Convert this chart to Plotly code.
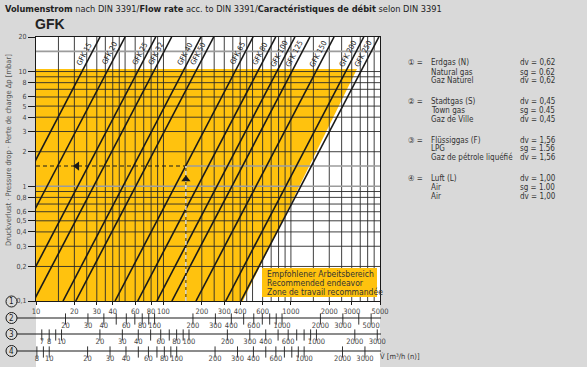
import numpy as np
import plotly.graph_objects as go

# ---------------- data ----------------
SIZES = ["GFK 15", "GFK 20", "GFK 25", "GFK 32", "GFK 40", "GFK 50", "GFK 65",
         "GFK 80", "GFK 100", "GFK 125", "GFK 150", "GFK 200", "GFK 250"]
# natural-gas flow (m3/h) where each line meets 20 mbar and 0.1 mbar
Q_AT_TOP = [31.8, 50, 87, 116, 197, 248, 505, 760, 1075, 1410, 2180, 3730, 4900]
Q_AT_BOT = [2.63, 4.13, 7.19, 9.59, 16.3, 20.5, 41.7, 62.8, 88.8, 116.5, 180, 308, 405]
DP_TOP, DP_BOT = 20, 0.1
Q_MIN, Q_MAX = 10, 5000

X_TICKS = [10, 20, 30, 40, 60, 80, 100, 200, 300, 400, 600, 1000, 2000, 3000, 5000]
Y_TICKS = [20, 10, 8, 6, 5, 4, 3, 2, 1, 0.8, 0.6, 0.5, 0.4, 0.3, 0.2, 0.1]
Y_TICKTEXT = ["20", "10", "8", "6", "5", "4", "3", "2", "1", "0,8", "0,6", "0,5",
              "0,4", "0,3", "0,2", "0,1"]

X_GRID = [15, 20, 25, 30, 35, 40, 45, 50, 60, 70, 80, 90, 100, 150, 200, 250, 300, 350,
          400, 450, 500, 600, 700, 800, 900, 1000, 1500, 2000, 2500, 3000, 3500, 4000, 4500]
Y_GRID = [10, 9, 8, 7, 6, 5, 4, 3, 2, 0.9, 0.8, 0.7, 0.6, 0.5, 0.4, 0.3, 0.2]
Y_GRID_GREY = [15, 1]

REC_TOP_DP = 10.5
REC_EDGE_Q_BOT = 420
REC_EDGE_Q_TOP = 3300

EX_Q, EX_DP = 150, 1.5
EX_ARROW_LEFT_Q = 21
EX_ARROW_UP_DP = 1.15

GAS_NO = ["①", "②", "③", "④"]
GAS_DE = ["Erdgas (N)", "Stadtgas (S)", "Flüssiggas (F)", "Luft (L)"]
GAS_EN = ["Natural gas", "Town gas", "LPG", "Air"]
GAS_FR = ["Gaz Naturel", "Gaz de Ville", "Gaz de pétrole liquéfié", "Air"]
GAS_D = [0.62, 0.45, 1.56, 1.00]
GAS_DV_TXT = ["0,62", "0,45", "1,56", "1,00"]
GAS_SG_TXT = ["0.62", "0.45", "1.56", "1.00"]

S2_TICKS = [20, 30, 40, 50, 60, 70, 80, 90, 100, 200, 300, 400, 500, 600, 700, 800, 900,
            1000, 2000, 3000, 4000, 5000]
S2_LABELS = [20, 30, 40, 60, 80, 100, 200, 300, 400, 600, 1000, 2000, 3000, 5000]
S3_TICKS = [7, 8, 9, 10, 20, 30, 40, 50, 60, 70, 80, 90, 100, 200, 300, 400, 500, 600, 700,
            800, 900, 1000, 2000, 3000]
S3_LABELS = [7, 8, 10, 20, 30, 40, 60, 80, 100, 200, 300, 400, 600, 1000, 2000, 3000]
S4_TICKS = [8, 9, 10, 20, 30, 40, 50, 60, 70, 80, 90, 100, 200, 300, 400, 500, 600, 700,
            800, 900, 1000, 2000, 3000, 4000]
S4_LABELS = [8, 10, 20, 30, 40, 60, 80, 100, 200, 300, 400, 600, 1000, 2000, 3000]

# ---------------- geometry / style ----------------
W, H = 587, 367
ML, MR, MT, MB = 36, 207, 37, 0
PW, PH = W - ML - MR, H - MT - MB
PLOT_BOTTOM = 301
YDOM0 = (H - MB - PLOT_BOTTOM) / PH

def pxx(px):
    return (px - ML) / PW

def pxy(py):
    return (H - MB - py) / PH

FONT = "DejaVu Sans Condensed, Liberation Sans Narrow, Arial Narrow, sans-serif"
TFONT = "Liberation Sans, Arial, sans-serif"
BG = "#D9D9D9"
YEL = "#FFC20E"
INK = "#1a1a1a"
GRID = "#2a2a2a"
GREY = "#9c9c9c"

fig = go.Figure()

# recommended zone (yellow)
fig.add_trace(go.Scatter(
    x=[Q_MIN, Q_MIN, REC_EDGE_Q_TOP, REC_EDGE_Q_BOT, Q_MIN],
    y=[DP_BOT, REC_TOP_DP, REC_TOP_DP, DP_BOT, DP_BOT],
    mode="lines", fill="toself", fillcolor=YEL, line=dict(width=0), hoverinfo="skip"))

# grid
gx, gy = [], []
for v in X_GRID:
    gx += [v, v, None]
    gy += [DP_BOT, DP_TOP, None]
for v in Y_GRID:
    gx += [Q_MIN, Q_MAX, None]
    gy += [v, v, None]
fig.add_trace(go.Scatter(x=gx, y=gy, mode="lines", line=dict(color=GRID, width=0.9),
                         hoverinfo="skip"))
hx, hy = [], []
for v in Y_GRID_GREY:
    hx += [Q_MIN, Q_MAX, None]
    hy += [v, v, None]
hx += [EX_Q, Q_MAX, None]
hy += [EX_DP, EX_DP, None]
fig.add_trace(go.Scatter(x=hx, y=hy, mode="lines", line=dict(color=GREY, width=1.6),
                         hoverinfo="skip"))

# GFK lines
for name, qt, qb in zip(SIZES, Q_AT_TOP, Q_AT_BOT):
    fig.add_trace(go.Scatter(x=[qb, qt], y=[DP_BOT, DP_TOP], mode="lines",
                             line=dict(color=INK, width=1.6), hoverinfo="skip"))

# example
fig.add_trace(go.Scatter(x=[Q_MIN, EX_Q], y=[EX_DP, EX_DP], mode="lines",
                         line=dict(color=INK, width=1.1, dash="4px,3px"), hoverinfo="skip"))
fig.add_trace(go.Scatter(x=[EX_Q, EX_Q], y=[DP_BOT, EX_DP], mode="lines",
                         line=dict(color="white", width=1.2, dash="4px,3px"), hoverinfo="skip"))
fig.add_trace(go.Scatter(x=[EX_ARROW_LEFT_Q], y=[EX_DP], mode="markers",
                         marker=dict(symbol="triangle-left", size=8, color=INK), hoverinfo="skip"))
fig.add_trace(go.Scatter(x=[EX_Q], y=[EX_ARROW_UP_DP], mode="markers",
                         marker=dict(symbol="triangle-up", size=8, color=INK), hoverinfo="skip"))

# line labels
PX_PER_DEC_X = PW / (np.log10(Q_MAX) - np.log10(Q_MIN))
PX_PER_DEC_Y = (PLOT_BOTTOM - MT) / (np.log10(DP_TOP) - np.log10(DP_BOT))
LABEL_DP = 13.5
annotations = []
for name, qt, qb in zip(SIZES, Q_AT_TOP, Q_AT_BOT):
    lt, lb = np.log10(qt), np.log10(qb)
    t = (np.log10(LABEL_DP) - np.log10(DP_BOT)) / (np.log10(DP_TOP) - np.log10(DP_BOT))
    lq = lb + t * (lt - lb)
    ang = np.degrees(np.arctan2((np.log10(DP_TOP) - np.log10(DP_BOT)) * PX_PER_DEC_Y,
                                (lt - lb) * PX_PER_DEC_X))
    off = 6.0
    annotations.append(dict(
        x=lq, y=np.log10(LABEL_DP), xref="x", yref="y", text=name, showarrow=False,
        xanchor="center", yanchor="middle",
        textangle=-ang, xshift=-off * np.sin(np.radians(ang)), yshift=off * np.cos(np.radians(ang)),
        font=dict(family=FONT, size=7.5, color="#222")))

def ann(px, py, text, size, color="#333", family=FONT, xanchor="left", **kw):
    annotations.append(dict(x=pxx(px), y=pxy(py), xref="paper", yref="paper", text=text,
                            showarrow=False, xanchor=xanchor, yanchor="middle",
                            font=dict(family=family, size=size, color=color), **kw))

# gas scales below the chart
SCALE_Y = {2: 318, 3: 334, 4: 351}
scales = [(2, "x2", S2_TICKS, S2_LABELS), (3, "x3", S3_TICKS, S3_LABELS), (4, "x4", S4_TICKS, S4_LABELS)]
shapes = []
for k, ax, ticks, labels in scales:
    yl = SCALE_Y[k]
    shapes.append(dict(type="line", xref="paper", yref="y2", x0=pxx(17), x1=pxx(381),
                       y0=yl, y1=yl, line=dict(color=INK, width=1.2)))
    fig.add_trace(go.Scatter(x=ticks, y=[yl + 1] * len(ticks), xaxis=ax, yaxis="y2",
                             mode="markers", cliponaxis=False, hoverinfo="skip",
                             marker=dict(symbol="line-ns", size=8,
                                         line=dict(width=1, color="#333"))))
    fig.add_trace(go.Scatter(x=labels, y=[yl + 8.5] * len(labels), xaxis=ax, yaxis="y2",
                             mode="text", text=[str(v) for v in labels], cliponaxis=False,
                             textfont=dict(family=FONT, size=7.5, color="#444"), hoverinfo="skip"))

# circled numbers at left
for i, cy in enumerate([301.5, 318, 334, 351]):
    shapes.append(dict(type="circle", xref="paper", yref="paper",
                       x0=pxx(6), x1=pxx(17), y0=pxy(cy + 5.5), y1=pxy(cy - 5.5),
                       line=dict(color=INK, width=1), fillcolor=BG))
    ann(11.5, cy, str(i + 1), 8, color=INK, xanchor="center")

# recommended box
shapes.append(dict(type="rect", xref="paper", yref="paper", x0=pxx(262), x1=pxx(377),
                   y0=pxy(297), y1=pxy(268), fillcolor=YEL, line=dict(width=0), layer="above"))
for txt, yy in zip(["Empfohlener Arbeitsbereich", "Recommended endeavor",
                    "Zone de travail recommandée"], [274, 283, 292]):
    ann(265, yy, txt, 8.5)

# title, GFK, axis title, unit
ann(3, 9, "<b>Volumenstrom</b> nach DIN 3391/<b>Flow rate</b> acc. to DIN 3391/"
          "<b>Caractéristiques de débit</b> selon DIN 3391", 9.2, color="#222")
ann(33, 24, "<b>GFK</b>", 14, color="#222", family=TFONT)
ann(8, 150, "Druckverlust · Pressure drop · Perte de charge Δp [mbar]", 7.5, color="#555",
    xanchor="center", textangle=-90)
ann(378, 356, "V\u0307 [m³/h (n)]", 7.5)

# legend block on the right
rows = [(63, 72, 80.5), (101, 110, 119), (140, 148.5, 157), (178, 187, 196)]
for i in range(4):
    r = rows[i]
    ann(406, r[0], GAS_NO[i] + " =", 8)
    for txt, yy in zip([GAS_DE[i], GAS_EN[i], GAS_FR[i]], r):
        ann(429, yy, txt, 8)
    for txt, yy in zip(["dv = " + GAS_DV_TXT[i], "sg = " + GAS_SG_TXT[i],
                        "dv = " + GAS_DV_TXT[i]], r):
        ann(518, yy, txt, 8)

def gas_range(d):
    f = np.sqrt(GAS_D[0] / d)
    return [np.log10(Q_MIN * f), np.log10(Q_MAX * f)]

fig.update_layout(
    width=W, height=H, margin=dict(l=ML, r=MR, t=MT, b=MB, autoexpand=False),
    paper_bgcolor=BG, plot_bgcolor="white", showlegend=False, hovermode=False,
    shapes=shapes, annotations=annotations,
    xaxis=dict(type="log", range=[np.log10(Q_MIN), np.log10(Q_MAX)], domain=[0, 1], anchor="y",
               tickmode="array", tickvals=X_TICKS, ticktext=[str(v) for v in X_TICKS],
               ticks="outside", ticklen=3, tickcolor=INK, showgrid=False, zeroline=False,
               showline=True, mirror=True, linecolor=INK, linewidth=1, tickangle=0,
               automargin=False, tickfont=dict(family=FONT, size=7.5, color="#444")),
    yaxis=dict(type="log", range=[np.log10(DP_BOT), np.log10(DP_TOP)], domain=[YDOM0, 1],
               anchor="x", tickmode="array", tickvals=Y_TICKS, ticktext=Y_TICKTEXT,
               ticks="outside", ticklen=7, tickcolor=INK, showgrid=False, zeroline=False,
               showline=True, mirror=True, linecolor=INK, linewidth=1, automargin=False,
               tickfont=dict(family=FONT, size=7, color="#444")),
    xaxis2=dict(type="log", range=gas_range(GAS_D[1]), domain=[0, 1], anchor="y2",
                visible=False, automargin=False),
    xaxis3=dict(type="log", range=gas_range(GAS_D[2]), domain=[0, 1], anchor="y2",
                overlaying="x2", visible=False, automargin=False),
    xaxis4=dict(type="log", range=gas_range(GAS_D[3]), domain=[0, 1], anchor="y2",
                overlaying="x2", visible=False, automargin=False),
    yaxis2=dict(range=[H - MB, PLOT_BOTTOM], domain=[0, YDOM0], anchor="x2", visible=False,
                automargin=False),
)

fig.write_html("out.html", config={"displayModeBar": False},
               post_script="document.body.style.margin='0';document.body.style.overflow='hidden';")
